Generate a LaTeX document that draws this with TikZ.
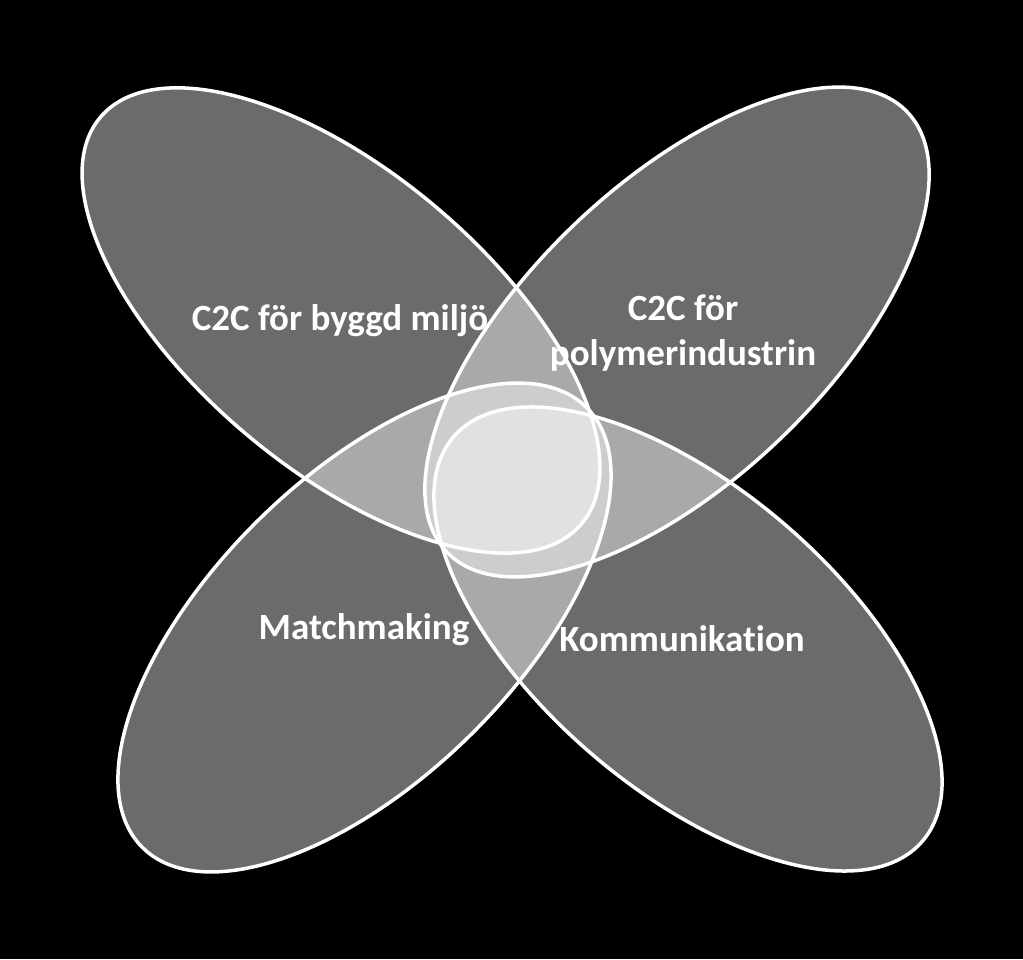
\documentclass[tikz,border=0pt]{standalone}
\usepackage{fontspec}
\setmainfont{Carlito}[RawFeature={-liga;-clig;-dlig}]
\begin{document}
\begin{tikzpicture}[x=1pt,y=1pt,
  petalfill/.style={fill=white,fill opacity=0.42},
  petalline/.style={draw=white,line width=3.5pt},
  lbl/.style={text=white,font=\bfseries\fontsize{37}{45}\selectfont,inner sep=0pt,align=center}]
\fill[black] (0,0) rectangle (1023,959);
\useasboundingbox (0,0) rectangle (1023,959);
% fills
\fill[petalfill,rotate around={-40.2:(341,638.5)}] (341,638.5) ellipse [x radius=315, y radius=148];
\fill[petalfill,rotate around={43.7:(677,627)}] (677,627) ellipse [x radius=318.5, y radius=148.6];
\fill[petalfill,rotate around={44.6:(364.5,331.5)}] (364.5,331.5) ellipse [x radius=312.6, y radius=151];
\fill[petalfill,rotate around={-40.8:(688,320)}] (688,320) ellipse [x radius=309.6, y radius=150];
% outlines
\draw[petalline,rotate around={-40.2:(341,638.5)}] (341,638.5) ellipse [x radius=315, y radius=148];
\draw[petalline,rotate around={43.7:(677,627)}] (677,627) ellipse [x radius=318.5, y radius=148.6];
\draw[petalline,rotate around={44.6:(364.5,331.5)}] (364.5,331.5) ellipse [x radius=312.6, y radius=151];
\draw[petalline,rotate around={-40.8:(688,320)}] (688,320) ellipse [x radius=309.6, y radius=150];
% labels
\node[lbl,anchor=base] (byggd) at (340,628) {C2C för byggd miljö};
\node[lbl,anchor=base] (poly) at (683,593) {C2C för\\polymerindustrin};
\node[lbl,anchor=base] (match) at (364,319) {Matchmaking};
\node[lbl,anchor=base] (komm) at (682,307) {Kommunikation};
\end{tikzpicture}
\end{document}
